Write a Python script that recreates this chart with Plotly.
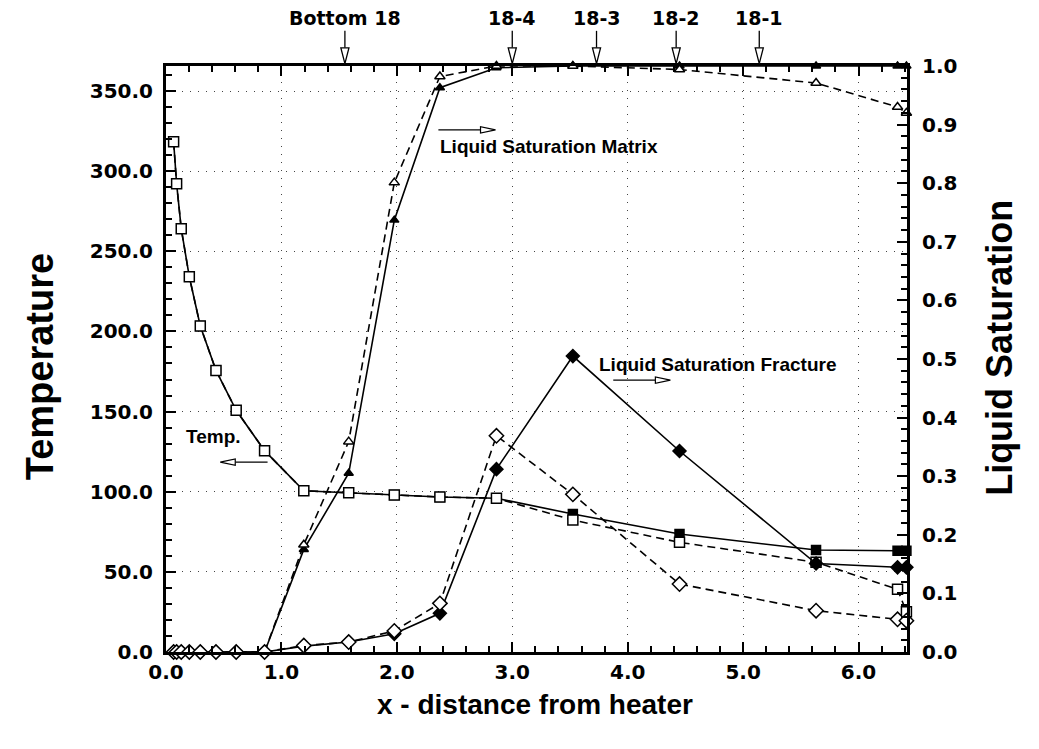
import plotly.graph_objects as go

# ---------------- data ----------------
x_nodes = [0.066, 0.092, 0.132, 0.202, 0.297, 0.433, 0.608, 0.854, 1.194, 1.583,
           1.978, 2.373, 2.863, 3.525, 4.449, 5.632, 6.338, 6.415]

temp_solid = [318.3, 292.1, 264.1, 234.1, 203.4, 175.7, 150.8, 125.6, 100.6, 99.4,
              97.9, 96.7, 95.9, 86.1, 73.6, 63.6, 63.2, 63.2]
temp_dashed = [318.3, 292.1, 264.1, 234.1, 203.4, 175.7, 150.8, 125.6, 100.6, 99.4,
               97.9, 96.7, 95.9, 82.3, 68.4, 56.0, 39.1, 25.1]

matrix_solid = [0, 0, 0, 0, 0, 0, 0, 0, 0.175, 0.305,
                0.737, 0.963, 0.997, 1.0, 1.0, 1.0, 1.0, 1.0]
matrix_dashed = [0, 0, 0, 0, 0, 0, 0, 0, 0.183, 0.359,
                 0.801, 0.982, 1.0, 1.0, 0.994, 0.971, 0.930, 0.920]

fracture_solid = [0, 0, 0, 0, 0, 0, 0, 0, 0.010, 0.017,
                  0.031, 0.066, 0.312, 0.505, 0.343, 0.151, 0.1445, 0.1445]
fracture_dashed = [0, 0, 0, 0, 0, 0, 0, 0, 0.011, 0.017,
                   0.036, 0.083, 0.369, 0.269, 0.116, 0.0705, 0.0558, 0.0534]

top_labels = ["Bottom 18", "18-4", "18-3", "18-2", "18-1"]
top_x = [1.55, 3.0, 3.73, 4.42, 5.14]

# text callouts: (text, x_left, y2)
callouts = [("Liquid Saturation Matrix", 2.36, 0.863),
            ("Liquid Saturation Fracture", 3.73, 0.490),
            ("Temp.", 0.156, 0.367)]
# callout arrows: (x_tail, x_tip, y2)
callout_arrows = [(2.36, 2.855, 0.891),
                  (3.875, 4.37, 0.464),
                  (0.88, 0.47, 0.324)]

x_title = "x - distance from heater"
y_title = "Temperature"
y2_title = "Liquid Saturation"

# ---------------- figure ----------------
BLACK = "black"
fig = go.Figure()

LW = 1.6
DASH = "8px,5px"

def add(x, y, dash, symbol, fill, size, axis):
    fig.add_trace(go.Scatter(
        x=x, y=y, mode="lines+markers", yaxis=axis, cliponaxis=False,
        line=dict(color=BLACK, width=LW, dash=dash),
        marker=dict(symbol=symbol, size=size, color=fill,
                    line=dict(color=BLACK, width=1.5)),
        showlegend=False))

add(x_nodes, temp_solid, "solid", "square", BLACK, 9, "y")
add(x_nodes, temp_dashed, DASH, "square", "white", 10, "y")
add(x_nodes, matrix_solid, "solid", "triangle-up", BLACK, 8, "y2")
add(x_nodes, matrix_dashed, DASH, "triangle-up", "white", 9, "y2")
add(x_nodes, fracture_solid, "solid", "diamond", BLACK, 10, "y2")
add(x_nodes, fracture_dashed, DASH, "diamond", "white", 11, "y2")

tick_font = dict(family="DejaVu Sans", size=20, color=BLACK, weight="bold")
label_font = dict(family="Liberation Sans, Arial", size=19, color=BLACK, weight="bold")

shapes = []
annotations = []

# top marker arrows
for lab, xv in zip(top_labels, top_x):
    annotations.append(dict(x=xv, y=1.082, xref="x", yref="paper", text=lab,
                            showarrow=False, yanchor="middle", xanchor="center",
                            font=dict(family="DejaVu Sans", size=19, color=BLACK, weight="bold")))
    shapes.append(dict(type="line", xref="x", yref="paper", x0=xv, x1=xv,
                       y0=1.060, y1=1.031, line=dict(color=BLACK, width=1.3)))
    shapes.append(dict(type="path", xref="x", yref="paper",
                       path=f"M {xv-0.035},1.031 L {xv+0.035},1.031 L {xv},1.004 Z",
                       fillcolor="white", line=dict(color=BLACK, width=1.3)))

# callouts
for txt, xl, yv in callouts:
    annotations.append(dict(x=xl, y=yv, xref="x", yref="y2", text=txt,
                            showarrow=False, xanchor="left", yanchor="middle", font=label_font))

HEAD_L = 0.13
HEAD_H = 0.0055
for xt, xh, yv in callout_arrows:
    sgn = 1 if xh > xt else -1
    xb = xh - sgn * HEAD_L
    shapes.append(dict(type="line", xref="x", yref="y2", x0=xt, x1=xb, y0=yv, y1=yv,
                       line=dict(color=BLACK, width=1.3)))
    shapes.append(dict(type="path", xref="x", yref="y2",
                       path=f"M {xb},{yv-HEAD_H} L {xb},{yv+HEAD_H} L {xh},{yv} Z",
                       fillcolor="white", line=dict(color=BLACK, width=1.2)))

# axis titles as annotations (positioned like the original)
annotations.append(dict(x=0.498, y=-0.090, xref="paper", yref="paper", text=x_title,
                        showarrow=False, xanchor="center", yanchor="middle",
                        font=dict(family="Liberation Sans, Arial", size=28, color=BLACK, weight="bold")))
annotations.append(dict(x=-0.170, y=0.486, xref="paper", yref="paper", text=y_title,
                        showarrow=False, xanchor="center", yanchor="middle", textangle=-90,
                        font=dict(family="Liberation Sans, Arial", size=38, color=BLACK, weight="bold")))
annotations.append(dict(x=1.1255, y=0.519, xref="paper", yref="paper", text=y2_title,
                        showarrow=False, xanchor="center", yanchor="middle", textangle=-90,
                        font=dict(family="Liberation Sans, Arial", size=36, color=BLACK, weight="bold")))

grid_dash = "1px,7px"

fig.update_layout(
    width=1031, height=741,
    margin=dict(l=158, r=132, t=58, b=97),
    paper_bgcolor="white", plot_bgcolor="white",
    shapes=shapes, annotations=annotations,
    xaxis=dict(
        range=[0, 6.42], dtick=1, tick0=0, tickformat=".1f",
        showline=True, linecolor=BLACK, linewidth=3, mirror="ticks",
        ticks="inside", ticklen=10, tickwidth=2, tickcolor=BLACK,
        minor=dict(dtick=0.2, ticks="inside", ticklen=6, tickwidth=1.5, tickcolor=BLACK, showgrid=False),
        showgrid=True, gridcolor="#444", gridwidth=1, griddash=grid_dash,
        zeroline=False, tickfont=tick_font,
    ),
    yaxis=dict(
        range=[0, 365.6], dtick=50, tick0=0, tickformat=".1f",
        showline=True, linecolor=BLACK, linewidth=3,
        ticks="inside", ticklen=10, tickwidth=2, tickcolor=BLACK,
        minor=dict(dtick=10, ticks="inside", ticklen=6, tickwidth=1.5, tickcolor=BLACK, showgrid=False),
        showgrid=True, gridcolor="#444", gridwidth=1, griddash=grid_dash,
        zeroline=False, tickfont=tick_font, ticklabelstandoff=6,
    ),
    yaxis2=dict(
        range=[0, 1.0], dtick=0.1, tick0=0, tickformat=".1f",
        overlaying="y", side="right",
        showline=True, linecolor=BLACK, linewidth=3,
        ticks="inside", ticklen=10, tickwidth=2, tickcolor=BLACK,
        minor=dict(dtick=0.02, ticks="inside", ticklen=6, tickwidth=1.5, tickcolor=BLACK, showgrid=False),
        showgrid=False, zeroline=False, tickfont=tick_font, ticklabelstandoff=8,
    ),
)

fig.write_html("out.html")
